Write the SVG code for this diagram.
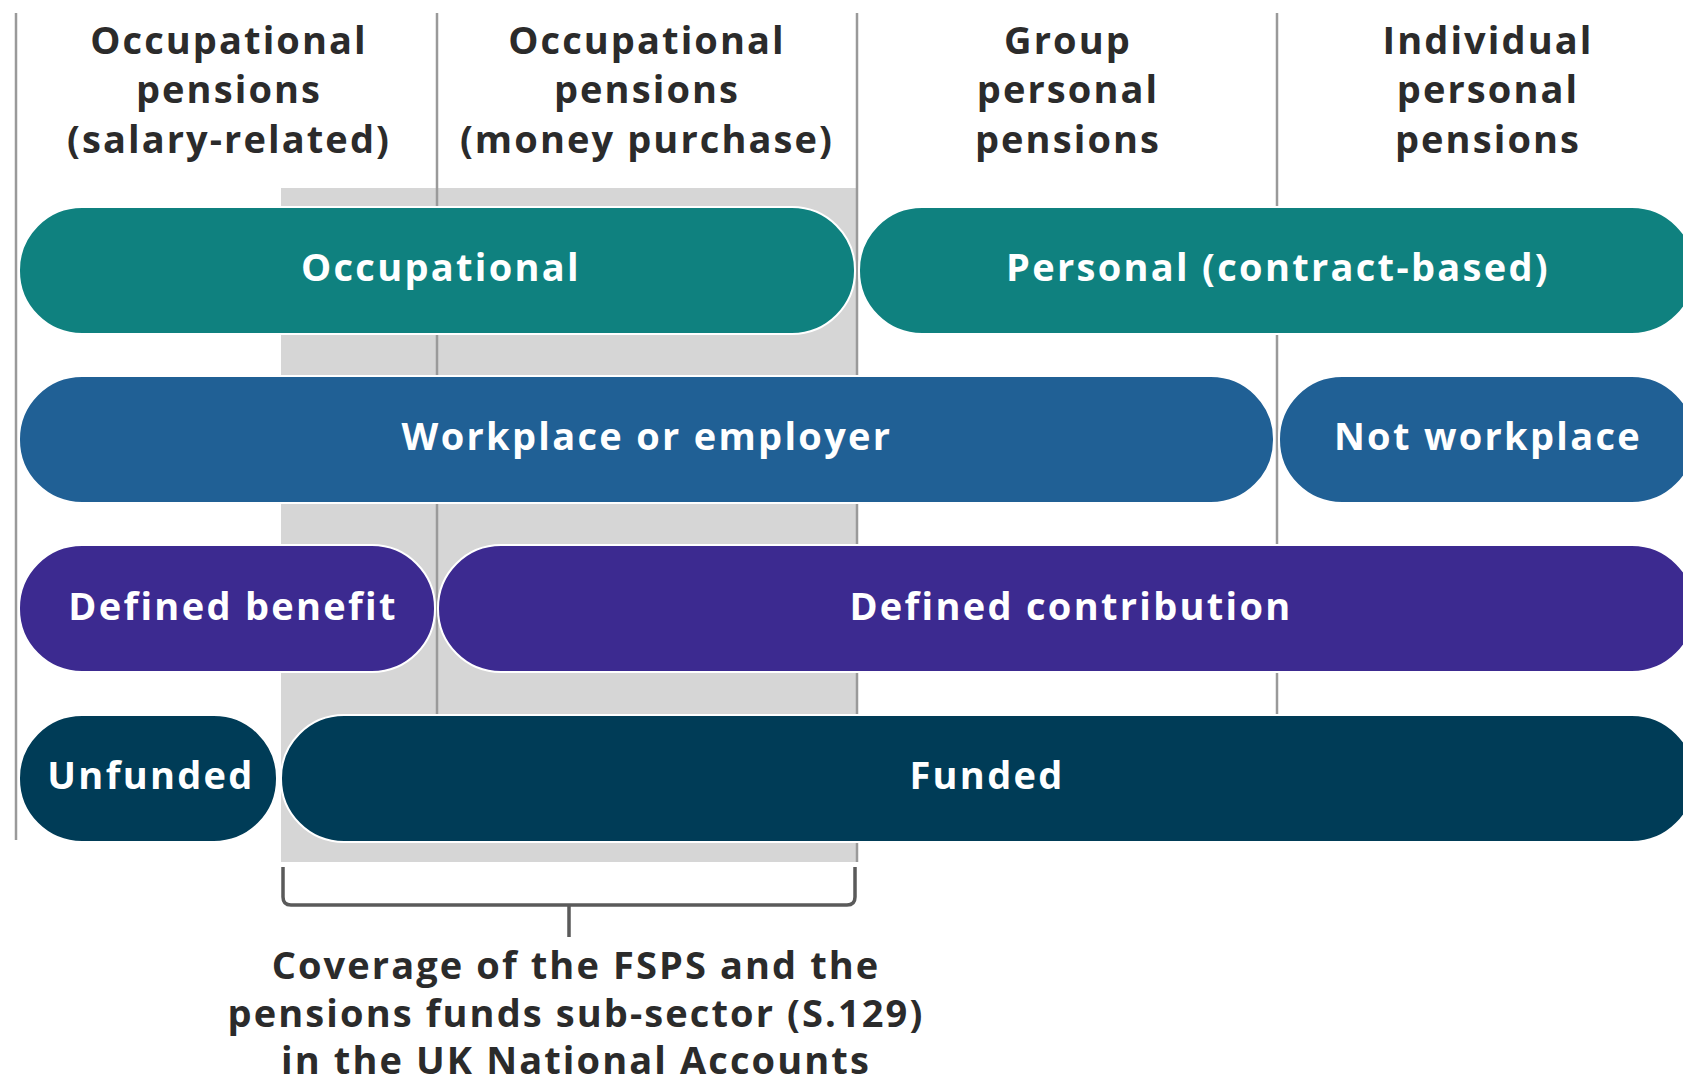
<svg xmlns="http://www.w3.org/2000/svg" width="1683" height="1083" viewBox="0 0 1683 1083">
<style>
.hdr{font-family:"Open Sans","Liberation Sans",sans-serif;font-weight:700;font-size:38px;letter-spacing:2.1px;fill:#2b2b2b;text-anchor:middle}
.pl{font-family:"Open Sans","Liberation Sans",sans-serif;font-weight:700;font-size:38px;letter-spacing:2.3px;fill:#ffffff;text-anchor:middle}
.vl{stroke:#9a9a9a;stroke-width:2.5;fill:none}
.pill{stroke:#ffffff;stroke-width:2}
.teal{fill:#0f817f}
.blue{fill:#206095}
.purple{fill:#3c2a90}
.night{fill:#003c57}
</style>
<rect width="1683" height="1083" fill="#ffffff"/>
<rect id="coverage-area" x="281" y="188" width="576" height="674" fill="#d6d6d6"/>
<g id="dividers">
<line class="vl" x1="16" y1="13" x2="16" y2="840"/>
<line class="vl" x1="437" y1="13" x2="437" y2="714"/>
<line class="vl" x1="857" y1="13" x2="857" y2="862"/>
<line class="vl" x1="1277" y1="13" x2="1277" y2="714"/>
</g>
<g id="headers">
<g id="h1"><text class="hdr" x="229" y="54">Occupational</text><text class="hdr" x="229" y="103">pensions</text><text class="hdr" x="229" y="153">(salary-related)</text></g>
<g id="h2"><text class="hdr" x="647" y="54">Occupational</text><text class="hdr" x="647" y="103">pensions</text><text class="hdr" x="647" y="153">(money purchase)</text></g>
<g id="h3"><text class="hdr" x="1068" y="54">Group</text><text class="hdr" x="1068" y="103">personal</text><text class="hdr" x="1068" y="153">pensions</text></g>
<g id="h4"><text class="hdr" x="1488" y="54">Individual</text><text class="hdr" x="1488" y="103">personal</text><text class="hdr" x="1488" y="153">pensions</text></g>
</g>
<g id="occupational"><rect class="pill teal" x="19" y="207" width="836" height="127" rx="63"/><text class="pl" x="441" y="281">Occupational</text></g>
<g id="personal"><rect class="pill teal" x="859" y="207" width="836" height="127" rx="63"/><text class="pl" x="1278" y="281">Personal (contract-based)</text></g>
<g id="workplace"><rect class="pill blue" x="19" y="376" width="1255" height="127" rx="63"/><text class="pl" x="647" y="450">Workplace or employer</text></g>
<g id="not-workplace"><rect class="pill blue" x="1279" y="376" width="416" height="127" rx="63"/><text class="pl" x="1488" y="450">Not workplace</text></g>
<g id="defined-benefit"><rect class="pill purple" x="19" y="545" width="416" height="127" rx="63"/><text class="pl" x="233" y="620">Defined benefit</text></g>
<g id="defined-contribution"><rect class="pill purple" x="438" y="545" width="1257" height="127" rx="63"/><text class="pl" x="1071" y="620">Defined contribution</text></g>
<g id="unfunded"><rect class="pill night" x="19" y="715" width="258" height="127" rx="63"/><text class="pl" x="151" y="789">Unfunded</text></g>
<g id="funded"><rect class="pill night" x="281" y="715" width="1414" height="127" rx="63"/><text class="pl" x="987" y="789">Funded</text></g>
<g id="connectors">
<path d="M283 867 V897 Q283 905 291 905 H847 Q855 905 855 897 V867 M569 905 V937" fill="none" stroke="#5a5a5a" stroke-width="3.5"/>
</g>
<g id="caption">
<text class="hdr" x="576" y="979">Coverage of the FSPS and the</text>
<text class="hdr" x="576" y="1027">pensions funds sub-sector (S.129)</text>
<text class="hdr" x="576" y="1074">in the UK National Accounts</text>
</g>
</svg>
